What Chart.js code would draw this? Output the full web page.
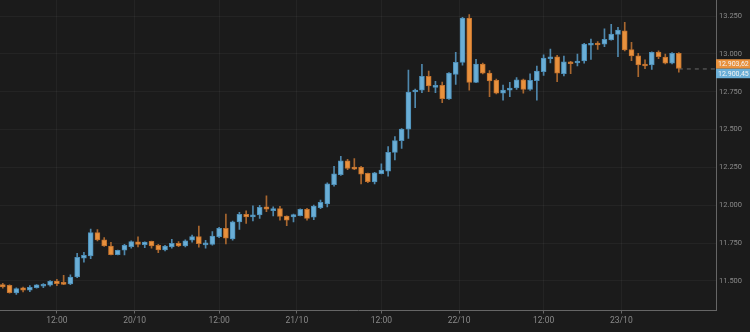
<!DOCTYPE html>
<html>
<head>
<meta charset="utf-8">
<script src="https://cdn.jsdelivr.net/npm/chart.js@4.4.1/dist/chart.umd.min.js"></script>
<style>
  html, body { margin: 0; padding: 0; background: #1b1b1b; }
  canvas { display: block; }
</style>
</head>
<body>
<canvas id="candleChart" width="750" height="332"></canvas>
<script>
// hourly candles, index 0 = first candle on screen
const opens = [
  11476, 11472, 11421, 11454, 11440, 11456, 11465, 11472, 11500, 11491,
  11480, 11526, 11650, 11665, 11819, 11771, 11731, 11674, 11703, 11727,
  11758, 11740, 11762, 11736, 11705, 11725, 11749, 11731, 11769, 11793,
  11738, 11742, 11793, 11848, 11777, 11890, 11940, 11923, 11936, 11989,
  11964, 11978, 11929, 11923, 11931, 11974, 11921, 11984, 12009, 12136,
  12202, 12293, 12253, 12251, 12211, 12154, 12209, 12226, 12350, 12427,
  12502, 12748, 12761, 12852, 12779, 12792, 12702, 12865, 12944, 13237,
  12812, 12933, 12874, 12825, 12740, 12761, 12775, 12829, 12766, 12823,
  12882, 12968, 12981, 12869, 12948, 12940, 12953, 13057, 13070, 13065,
  13092, 13129, 13153, 13028, 12988, 12933, 12927, 13012, 12979, 12938,
  13004
];
const highs = [
  11485, 11474, 11454, 11460, 11469, 11476, 11482, 11502, 11511, 11538,
  11540, 11683, 11690, 11843, 11839, 11786, 11756, 11704, 11742, 11766,
  11791, 11759, 11764, 11742, 11736, 11775, 11760, 11771, 11804, 11863,
  11769, 11826, 11855, 11942, 11896, 11954, 11964, 11997, 12000, 12063,
  11989, 11993, 11931, 11942, 11976, 11980, 12002, 12035, 12149, 12258,
  12324, 12304, 12308, 12258, 12213, 12217, 12273, 12387, 12453, 12506,
  12893, 12768, 12931, 12887, 12819, 12814, 12876, 13010, 13241, 13259,
  12964, 12940, 12889, 12834, 12794, 12812, 12843, 12834, 12869, 12920,
  12993, 13032, 12991, 12986, 12951, 12999, 13070, 13098, 13082, 13166,
  13195, 13175, 13208, 13076, 13004, 12960, 13014, 13021, 12999, 13008,
  13008
];
const lows = [
  11452, 11420, 11412, 11427, 11429, 11453, 11456, 11465, 11469, 11476,
  11476, 11522, 11624, 11647, 11764, 11729, 11672, 11672, 11672, 11716,
  11725, 11720, 11716, 11687, 11698, 11716, 11727, 11725, 11756, 11723,
  11716, 11736, 11786, 11744, 11769, 11841, 11880, 11896, 11914, 11958,
  11929, 11901, 11865, 11890, 11929, 11901, 11905, 11978, 11989, 12127,
  12198, 12235, 12236, 12141, 12149, 12141, 12207, 12193, 12299, 12376,
  12442, 12644, 12744, 12750, 12744, 12678, 12700, 12799, 12925, 12761,
  12810, 12867, 12717, 12735, 12695, 12717, 12766, 12740, 12759, 12695,
  12858, 12940, 12816, 12854, 12869, 12920, 12938, 12964, 13029, 13047,
  13090, 12981, 13019, 12955, 12849, 12902, 12898, 12968, 12933, 12933,
  12880
];
const closes = [
  11460, 11423, 11449, 11439, 11458, 11474, 11478, 11498, 11482, 11478,
  11526, 11657, 11670, 11819, 11771, 11731, 11674, 11703, 11736, 11760,
  11742, 11757, 11731, 11705, 11731, 11749, 11731, 11766, 11793, 11746,
  11749, 11797, 11848, 11782, 11890, 11940, 11923, 11936, 11987, 11974,
  11978, 11927, 11901, 11938, 11974, 11914, 11995, 12020, 12141, 12207,
  12293, 12244, 12238, 12205, 12156, 12215, 12233, 12350, 12427, 12504,
  12748, 12761, 12852, 12788, 12792, 12704, 12874, 12944, 13237, 12812,
  12933, 12872, 12821, 12740, 12761, 12775, 12829, 12766, 12825, 12887,
  12973, 12981, 12872, 12948, 12935, 12953, 13065, 13070, 13059, 13096,
  13131, 13158, 13026, 12986, 12927, 12920, 13010, 12981, 12938, 13004,
  12903.62
];

const xTickPositions = [8, 19.5, 32, 43.5, 56, 67.5, 80, 91.5];
const xTickLabels = ["12:00", "20/10", "12:00", "21/10", "12:00", "22/10", "12:00", "23/10"];
const yTickValues = [11500, 11750, 12000, 12250, 12500, 12750, 13000, 13250];

const askPrice = 12903.62;
const bidPrice = 12900.45;

const UP = "#6aaed6";
const DOWN = "#e8913d";
const UP_WICK = "#4f88ad";
const DOWN_WICK = "#a9672f";
const AXIS_TEXT = "#8a8a8a";
const AXIS_LINE = "#666666";
const GRID = "rgba(255, 255, 255, 0.045)";

function formatThousands(v) {
  return Math.round(v).toString().replace(/\B(?=(\d{3})+(?!\d))/g, ".");
}

function formatPrice(v) {
  const [int, dec] = v.toFixed(2).split(".");
  return formatThousands(Number(int)) + "," + dec;
}

const isUp = closes.map((c, i) => c >= opens[i]);

const wickData = highs.map((h, i) => ({ x: i, y: [lows[i], h] }));
const bodyData = opens.map((o, i) => ({ x: i, y: [o, closes[i]] }));
const lastIndex = closes.length - 1;

// right-hand price tags for ask / bid
const priceTags = {
  id: "priceTags",
  afterDraw(chart) {
    const { ctx, chartArea, scales } = chart;
    const mid = scales.y.getPixelForValue((askPrice + bidPrice) / 2);
    const x = chartArea.right;
    const w = 34;
    const h = 9.5;
    ctx.save();
    ctx.font = "7px Roboto";
    ctx.textBaseline = "middle";
    ctx.textAlign = "left";
    ctx.fillStyle = DOWN;
    ctx.fillRect(x, mid - h, w, h);
    ctx.fillStyle = UP;
    ctx.fillRect(x, mid, w, h);
    ctx.fillStyle = "#f4f4f4";
    ctx.fillText(formatPrice(askPrice), x + 2, mid - h / 2 + 0.5);
    ctx.fillText(formatPrice(bidPrice), x + 2, mid + h / 2 + 0.5);
    ctx.restore();
  },
};

const ctx = document.getElementById("candleChart").getContext("2d");
new Chart(ctx, {
  type: "bar",
  data: {
    datasets: [
      {
        type: "line",
        data: [
          { x: lastIndex, y: bidPrice },
          { x: 105.5, y: bidPrice },
        ],
        borderColor: "rgba(170, 170, 170, 0.55)",
        borderWidth: 1,
        borderDash: [4, 4],
        pointRadius: 0,
        order: 3,
      },
      {
        data: wickData,
        backgroundColor: isUp.map((u) => (u ? UP_WICK : DOWN_WICK)),
        barThickness: 1,
        grouped: false,
        order: 2,
      },
      {
        data: bodyData,
        backgroundColor: isUp.map((u) => (u ? UP : DOWN)),
        borderColor: isUp.map((u) => (u ? "#4d8fb8" : "#c2722e")),
        borderWidth: 1,
        borderSkipped: false,
        barThickness: 5,
        minBarLength: 2,
        grouped: false,
        order: 1,
      },
    ],
  },
  options: {
    responsive: false,
    animation: false,
    layout: { padding: 0 },
    plugins: {
      legend: { display: false },
      tooltip: { enabled: false },
    },
    scales: {
      x: {
        type: "linear",
        min: -0.414,
        max: 105.5,
        offset: false,
        afterFit(scale) {
          scale.height = 21.5;
          scale.paddingLeft = 0;
          scale.paddingRight = 0;
        },
        afterBuildTicks(scale) {
          scale.ticks = xTickPositions.map((v) => ({ value: v }));
        },
        ticks: {
          autoSkip: false,
          maxRotation: 0,
          padding: 2,
          color: AXIS_TEXT,
          font: { family: "Roboto", size: 8.5 },
          callback: (value) => xTickLabels[xTickPositions.indexOf(value)],
        },
        grid: {
          offset: false,
          color: GRID,
          tickColor: AXIS_LINE,
          tickLength: 3,
        },
        border: { color: AXIS_LINE },
      },
      y: {
        type: "linear",
        position: "right",
        min: 11305,
        max: 13356,
        afterFit(scale) {
          scale.width = 34;
          scale.paddingTop = 0;
          scale.paddingBottom = 0;
        },
        afterBuildTicks(scale) {
          scale.ticks = yTickValues.map((v) => ({ value: v }));
        },
        ticks: {
          padding: 3,
          color: AXIS_TEXT,
          font: { family: "Roboto", size: 7.5 },
          callback: (value) => formatThousands(value),
        },
        grid: {
          color: GRID,
          drawTicks: false,
        },
        border: { color: AXIS_LINE },
      },
    },
  },
  plugins: [priceTags],
});
</script>
</body>
</html>
